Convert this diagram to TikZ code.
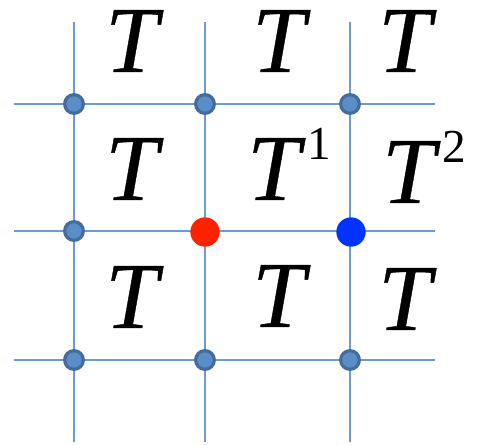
\documentclass[tikz,border=0pt]{standalone}
\usepackage{fontspec}
\setmainfont{Liberation Serif}
\newfontfamily\labfont{Liberation Serif}[ItalicFeatures={FakeBold=0.4}]
\usetikzlibrary{positioning}

\definecolor{gridblue}{RGB}{106,155,209}
\definecolor{dotfill}{RGB}{91,141,200}
\definecolor{dotrim}{RGB}{68,108,158}
\definecolor{hotred}{RGB}{255,34,0}
\definecolor{hotblue}{RGB}{0,51,255}

\newcommand{\supnum}[2]{\hspace{#1}\raisebox{30pt}{\fontsize{35.5}{35.5}\selectfont\upshape #2}}

\begin{document}
\begin{tikzpicture}[x=0.75pt, y=-0.75pt,
  gridline/.style={draw=gridblue, line width=1.2pt},
  site/.style={circle, fill=dotfill, draw=dotrim, line width=2.4pt, minimum size=14pt, inner sep=0pt},
  hot/.style={circle, minimum size=22pt, inner sep=0pt},
  lab/.style={anchor=base west, inner sep=0pt, text height=46pt, text depth=0pt,
    font=\fontsize{71}{71}\labfont\itshape}]
\useasboundingbox (0,0) rectangle (483,445);

% line ends
\coordinate (t1) at (74,22);  \coordinate (b1) at (74,442);
\coordinate (t2) at (205,22); \coordinate (b2) at (205,442);
\coordinate (t3) at (350,22); \coordinate (b3) at (350,442);
\coordinate (l1) at (14,104); \coordinate (r1) at (435,104);
\coordinate (l2) at (14,231); \coordinate (r2) at (435,231);
\coordinate (l3) at (14,360); \coordinate (r3) at (435,360);

\draw[gridline] (t1) -- (b1);
\draw[gridline] (t2) -- (b2);
\draw[gridline] (t3) -- (b3);
\draw[gridline] (l1) -- (r1);
\draw[gridline] (l2) -- (r2);
\draw[gridline] (l3) -- (r3);

% lattice sites
\node[site] (s11) at (74,104) {};
\node[site] (s12) at (205,104) {};
\node[site] (s13) at (350,104) {};
\node[site] (s21) at (74,231) {};
\node[hot, fill=hotred] (s22) at (205,232) {};
\node[hot, fill=hotblue] (s23) at (351,232) {};
\node[site] (s31) at (74,360) {};
\node[site] (s32) at (205,360) {};
\node[site] (s33) at (350,360) {};

% plaquette labels
\node[lab] (p11) at (105,72) {T};
\node[lab] (p12) at (252,72) {T};
\node[lab] (p13) at (378,72) {T};
\node[lab] (p21) at (105,200) {T};
\node[lab] (p22) at (247,200) {T\supnum{6pt}{1}};
\node[lab] (p23) at (382,203) {T\supnum{6pt}{2}};
\node[lab] (p31) at (105,328) {T};
\node[lab] (p32) at (252,327) {T};
\node[lab] (p33) at (378,330) {T};
\end{tikzpicture}
\end{document}
